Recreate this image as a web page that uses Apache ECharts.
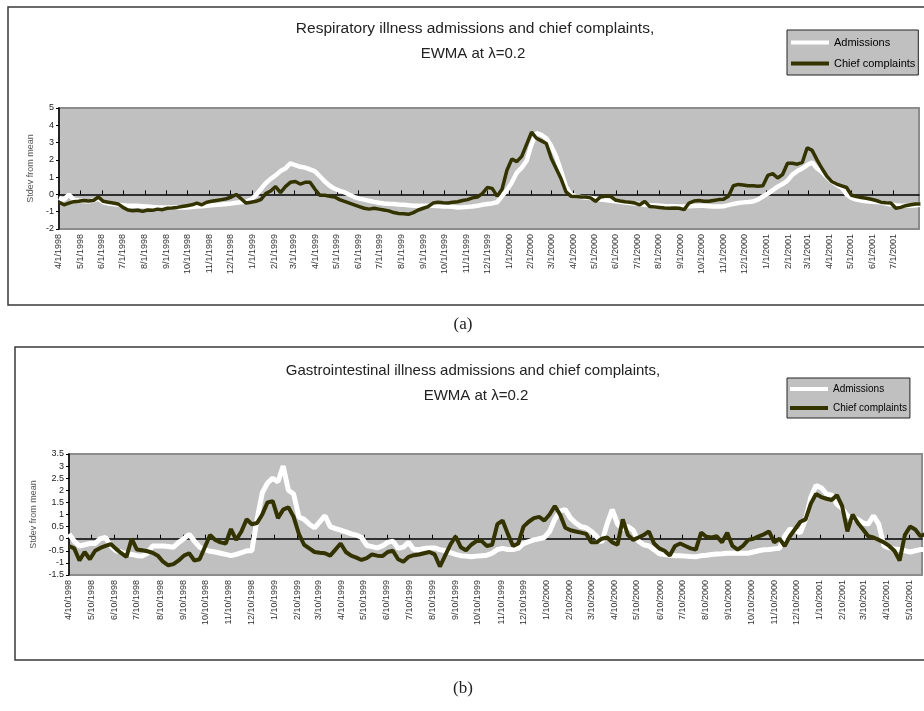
<!DOCTYPE html>
<html>
<head>
<meta charset="utf-8">
<script src="https://cdn.jsdelivr.net/npm/echarts@6/dist/echarts.min.js"></script>
<style>
  html, body { margin: 0; padding: 0; background: #fff; }
  #chart { width: 924px; height: 711px; }
</style>
</head>
<body>
<div id="chart"></div>
<script>
// EWMA (lambda = 0.2) of admissions vs chief complaints, two panels
// values are weekly readings in standard deviations from the mean

// (a) respiratory, first reading 4/1/1998, axis ends 8/6/2001
const respStart = [1998, 3, 1]
const respEnd = [2001, 7, 6]
const respAdmissions = [
  -0.2, -0.3, 0.0, -0.3, -0.35, -0.38, -0.4, -0.35, -0.25, -0.45,
  -0.52, -0.55, -0.6, -0.62, -0.65, -0.65, -0.66, -0.68, -0.7, -0.72,
  -0.75, -0.75, -0.75, -0.76, -0.75, -0.76, -0.75, -0.73, -0.7, -0.68,
  -0.65, -0.62, -0.6, -0.58, -0.55, -0.52, -0.48, -0.45, -0.42, -0.3,
  -0.05, 0.3, 0.65, 0.9, 1.1, 1.35, 1.5, 1.8, 1.7, 1.6,
  1.55, 1.45, 1.33, 1.05, 0.75, 0.5, 0.33, 0.22, 0.12, -0.02,
  -0.15, -0.24, -0.3, -0.37, -0.43, -0.48, -0.52, -0.54, -0.55, -0.58,
  -0.6, -0.62, -0.65, -0.65, -0.65, -0.65, -0.65, -0.67, -0.7, -0.7,
  -0.72, -0.75, -0.74, -0.72, -0.7, -0.66, -0.6, -0.55, -0.52, -0.45,
  -0.1, 0.25, 0.7, 1.25, 1.55, 1.95, 2.9, 3.55, 3.45, 3.25,
  2.8, 2.2, 1.35, 0.45, -0.02, -0.1, -0.15, -0.18, -0.2, -0.25,
  -0.3, -0.33, -0.36, -0.4, -0.43, -0.47, -0.5, -0.53, -0.56, -0.6,
  -0.62, -0.63, -0.65, -0.67, -0.68, -0.69, -0.7, -0.7, -0.68, -0.67,
  -0.65, -0.66, -0.68, -0.7, -0.7, -0.68, -0.62, -0.55, -0.5, -0.46,
  -0.44, -0.41, -0.3, -0.12, 0.05, 0.25, 0.45, 0.6, 0.8, 1.15,
  1.35, 1.5, 1.7, 1.85, 1.5, 1.3, 1.0, 0.75, 0.55, 0.4,
  0.0, -0.2, -0.3, -0.35, -0.4, -0.42, -0.44, -0.46, -0.53, -0.58,
  -0.63, -0.65, -0.65, -0.65, -0.62, -0.6
]
const respComplaints = [
  -0.45, -0.6, -0.5, -0.42, -0.4, -0.35, -0.38, -0.35, -0.15, -0.4,
  -0.45, -0.5, -0.55, -0.75, -0.9, -0.95, -0.92, -0.98, -0.9, -0.92,
  -0.85, -0.88, -0.8, -0.78, -0.75, -0.7, -0.65, -0.6, -0.5, -0.6,
  -0.45, -0.4, -0.35, -0.3, -0.25, -0.15, 0.0, -0.25, -0.5, -0.45,
  -0.4, -0.3, 0.05, 0.2, 0.45, 0.1, 0.45, 0.7, 0.75, 0.6,
  0.7, 0.7, 0.3, -0.05, -0.05, -0.1, -0.15, -0.3, -0.4, -0.5,
  -0.6, -0.7, -0.8, -0.85, -0.8, -0.85, -0.9, -0.95, -1.05, -1.1,
  -1.12, -1.15, -1.05, -0.9, -0.8, -0.7, -0.5, -0.45, -0.48, -0.5,
  -0.45, -0.42, -0.35, -0.3, -0.2, -0.15, 0.05, 0.4, 0.35, -0.1,
  0.3, 1.4, 2.05, 1.9, 2.2, 2.9, 3.6, 3.25, 3.1, 2.95,
  2.1, 1.5, 0.9, 0.15, -0.1, -0.12, -0.15, -0.15, -0.2, -0.4,
  -0.15, -0.1, -0.1, -0.32, -0.38, -0.42, -0.45, -0.5, -0.6, -0.4,
  -0.7, -0.72, -0.75, -0.78, -0.8, -0.78, -0.8, -0.88, -0.5, -0.38,
  -0.35, -0.4, -0.4, -0.35, -0.3, -0.28, -0.1, 0.5, 0.58, 0.55,
  0.5, 0.5, 0.48, 0.5, 1.1, 1.2, 0.95, 1.15, 1.8, 1.8,
  1.75, 1.85, 2.7, 2.55, 2.0, 1.5, 1.05, 0.75, 0.6, 0.5,
  0.4, -0.05, -0.12, -0.18, -0.22, -0.28, -0.35, -0.45, -0.48, -0.5,
  -0.8, -0.75, -0.65, -0.6, -0.55, -0.55
]
const respTicks = [
  '4/1/1998', '5/1/1998', '6/1/1998', '7/1/1998', '8/1/1998', '9/1/1998', '10/1/1998', '11/1/1998', '12/1/1998',
  '1/1/1999', '2/1/1999', '3/1/1999', '4/1/1999', '5/1/1999', '6/1/1999', '7/1/1999', '8/1/1999', '9/1/1999',
  '10/1/1999', '11/1/1999', '12/1/1999', '1/1/2000', '2/1/2000', '3/1/2000', '4/1/2000', '5/1/2000', '6/1/2000',
  '7/1/2000', '8/1/2000', '9/1/2000', '10/1/2000', '11/1/2000', '12/1/2000', '1/1/2001', '2/1/2001', '3/1/2001',
  '4/1/2001', '5/1/2001', '6/1/2001', '7/1/2001'
]

// (b) gastrointestinal, first reading 4/10/1998, axis ends 5/27/2001
const giStart = [1998, 3, 10]
const giEnd = [2001, 4, 27]
const giAdmissions = [
  0.2, -0.1, -0.3, -0.25, -0.2, -0.2, 0.0, 0.05, -0.3, -0.5,
  -0.55, -0.62, -0.65, -0.7, -0.72, -0.6, -0.3, -0.3, -0.3, -0.32,
  -0.35, -0.15, 0.0, 0.18, -0.1, -0.35, -0.45, -0.52, -0.55, -0.6,
  -0.65, -0.7, -0.65, -0.58, -0.5, -0.5, 0.8, 1.9, 2.3, 2.5,
  2.35, 3.0, 2.0, 1.85, 0.9, 0.8, 0.6, 0.45, 0.7, 0.95,
  0.5, 0.42, 0.35, 0.28, 0.2, 0.15, 0.05, -0.28, -0.33, -0.38,
  -0.3, -0.15, -0.1, -0.4, -0.35, -0.15, -0.45, -0.45, -0.4, -0.38,
  -0.38, -0.45, -0.5, -0.58, -0.65, -0.7, -0.72, -0.75, -0.72, -0.7,
  -0.68, -0.6, -0.45, -0.4, -0.45, -0.45, -0.4, -0.2, -0.12, -0.05,
  0.0, 0.05, 0.3, 0.8, 1.15, 1.2, 0.85, 0.65, 0.5, 0.45,
  0.3, 0.1, -0.15, 0.6, 1.2, 0.6, 0.4, 0.5, 0.35, -0.1,
  -0.25, -0.3, -0.45, -0.62, -0.65, -0.68, -0.7, -0.7, -0.72, -0.74,
  -0.75, -0.7, -0.68, -0.65, -0.63, -0.62, -0.6, -0.6, -0.6, -0.6,
  -0.6, -0.55, -0.5, -0.46, -0.45, -0.42, -0.4, 0.1, 0.4, 0.33,
  0.25, 0.8, 1.7, 2.2, 2.1, 1.85, 1.8, 1.42, 1.25, 0.95,
  0.82, 0.8, 0.65, 0.6, 0.95, 0.6, -0.3, -0.38, -0.42, -0.45,
  -0.5, -0.55, -0.5, -0.45, -0.45
]
const giComplaints = [
  -0.3, -0.4, -0.9, -0.55, -0.85, -0.5, -0.38, -0.3, -0.22, -0.42,
  -0.6, -0.75, 0.0, -0.45, -0.48, -0.52, -0.58, -0.7, -0.95, -1.1,
  -1.05, -0.9, -0.7, -0.6, -0.9, -0.85, -0.35, 0.15, -0.05, -0.15,
  -0.2, 0.4, -0.05, 0.3, 0.8, 0.6, 0.65, 1.0, 1.5, 1.55,
  0.85, 1.2, 1.3, 0.9, 0.2, -0.25, -0.4, -0.55, -0.58, -0.6,
  -0.7, -0.45, -0.2, -0.55, -0.7, -0.78, -0.88, -0.8, -0.65, -0.7,
  -0.72, -0.55, -0.5, -0.85, -0.95, -0.75, -0.68, -0.65, -0.6, -0.55,
  -0.65, -1.15, -0.7, -0.25, 0.1, -0.35, -0.48, -0.25, -0.1, -0.1,
  -0.3, -0.25, 0.6, 0.75, 0.2, -0.3, -0.2, 0.5, 0.7, 0.85,
  0.9, 0.75, 1.0, 1.35, 1.0, 0.45, 0.35, 0.3, 0.25, 0.2,
  -0.15, -0.15, 0.0, 0.05, -0.15, -0.25, 0.8, 0.15, -0.05, 0.05,
  0.15, 0.3, -0.2, -0.4, -0.5, -0.7, -0.3, -0.2, -0.3, -0.4,
  -0.45, 0.25, 0.08, 0.05, 0.1, -0.15, 0.25, -0.3, -0.45, -0.3,
  -0.05, 0.0, 0.1, 0.18, 0.3, -0.15, 0.0, -0.3, 0.1, 0.4,
  0.7, 0.8, 1.45, 1.85, 1.72, 1.65, 1.6, 1.8, 1.35, 0.3,
  1.0, 0.65, 0.38, 0.1, 0.05, -0.05, -0.15, -0.3, -0.5, -0.9,
  0.15, 0.5, 0.38, 0.1, 0.2
]
const giTicks = [
  '4/10/1998', '5/10/1998', '6/10/1998', '7/10/1998', '8/10/1998', '9/10/1998', '10/10/1998', '11/10/1998',
  '12/10/1998', '1/10/1999', '2/10/1999', '3/10/1999', '4/10/1999', '5/10/1999', '6/10/1999', '7/10/1999',
  '8/10/1999', '9/10/1999', '10/10/1999', '11/10/1999', '12/10/1999', '1/10/2000', '2/10/2000', '3/10/2000',
  '4/10/2000', '5/10/2000', '6/10/2000', '7/10/2000', '8/10/2000', '9/10/2000', '10/10/2000', '11/10/2000',
  '12/10/2000', '1/10/2001', '2/10/2001', '3/10/2001', '4/10/2001', '5/10/2001'
]

const DAY = 86400000
const FONT = '"Liberation Sans", Arial, sans-serif'
const OLIVE = '#333300'

// x runs in days since the panel's first reading
const ymd = a => Date.UTC(a[0], a[1], a[2])
const dayOf = (start, t) => Math.round((t - ymd(start)) / DAY)
const parseTick = s => {
  const [m, d, y] = s.split('/').map(Number)
  return Date.UTC(y, m - 1, d)
}
const fmtDay = start => v => {
  const d = new Date(ymd(start) + Math.round(v) * DAY)
  return `${d.getUTCMonth() + 1}/${d.getUTCDate()}/${d.getUTCFullYear()}`
}
// weekly readings -> [day, value]
const weekly = vals => vals.map((v, i) => [i * 7, v])

function xAxes(gridIndex, start, end, ticks) {
  const tickDays = ticks.map(s => dayOf(start, parseTick(s)))
  const range = { min: 0, max: dayOf(start, ymd(end)) }
  return [
    { // labels along the bottom of the plot
      type: 'value', gridIndex, ...range,
      axisLine: { show: false, onZero: false },
      axisTick: { show: false },
      splitLine: { show: false },
      axisLabel: {
        customValues: tickDays, formatter: fmtDay(start), rotate: 90,
        fontSize: 9, color: '#333', margin: 5, fontFamily: FONT,
        showMinLabel: true, showMaxLabel: true
      }
    },
    { // the zero line with monthly ticks
      type: 'value', gridIndex, ...range,
      axisLine: { onZero: true, lineStyle: { color: '#000', width: 1.5 } },
      axisTick: { customValues: tickDays, length: 4, lineStyle: { color: '#000', width: 1 } },
      axisLabel: { show: false },
      splitLine: { show: false }
    }
  ]
}

function yAxis(gridIndex, min, max, interval, nameGap) {
  return {
    type: 'value', gridIndex, min, max, interval,
    name: 'Stdev from mean', nameLocation: 'middle', nameGap,
    nameTextStyle: { fontSize: 9, color: '#555', fontFamily: FONT },
    axisLine: { show: true, onZero: false, lineStyle: { color: '#000', width: 1.5 } },
    axisTick: { show: true, length: 3, lineStyle: { color: '#000' } },
    axisLabel: { fontSize: 9, color: '#222', margin: 5, fontFamily: FONT },
    splitLine: { show: false }
  }
}

function lines(xAxisIndex, yAxisIndex, adm, cc, widths) {
  return [
    {
      name: 'Admissions', type: 'line', xAxisIndex, yAxisIndex,
      data: weekly(adm), symbol: 'none', z: 2,
      lineStyle: { color: '#ffffff', width: widths[0] }, itemStyle: { color: '#ffffff' }
    },
    {
      name: 'Chief complaints', type: 'line', xAxisIndex, yAxisIndex,
      data: weekly(cc), symbol: 'none', z: 3,
      lineStyle: { color: OLIVE, width: widths[1] }, itemStyle: { color: OLIVE }
    }
  ]
}

function legend(top, fontSize, itemGap, padding) {
  return {
    left: 787, top, orient: 'vertical', icon: 'rect',
    itemWidth: 38, itemHeight: 4, itemGap, padding,
    backgroundColor: '#c0c0c0', borderColor: '#222', borderWidth: 1,
    selectedMode: false,
    textStyle: { fontSize, color: '#000', fontFamily: FONT },
    data: ['Admissions', 'Chief complaints']
  }
}

const text = (x, y, str, font) => ({
  type: 'text', x, y,
  style: { text: str, font, fill: '#222', align: 'center', verticalAlign: 'middle' }
})
const frame = (x, y, w, h) => ({
  type: 'rect', shape: { x, y, width: w, height: h },
  style: { fill: 'none', stroke: '#3a3a3a', lineWidth: 1.5 }
})

const plotBg = { show: true, backgroundColor: '#c0c0c0', borderColor: '#8c8c8c', borderWidth: 2 }

const chart = echarts.init(document.getElementById('chart'))
chart.setOption({
  animation: false,
  grid: [
    { left: 59, top: 108, width: 860, height: 121, ...plotBg },
    { left: 69, top: 454, width: 853, height: 121, ...plotBg }
  ],
  xAxis: [
    ...xAxes(0, respStart, respEnd, respTicks),
    ...xAxes(1, giStart, giEnd, giTicks)
  ],
  yAxis: [
    yAxis(0, -2, 5, 1, 21),
    yAxis(1, -1.5, 3.5, 0.5, 22)
  ],
  legend: [
    legend(30, 11, 10, [7, 3, 6, 4]),
    legend(378, 10, 9, [6, 3, 5, 3])
  ],
  series: [
    ...lines(0, 0, respAdmissions, respComplaints, [4.5, 3.5]),
    ...lines(2, 1, giAdmissions, giComplaints, [5, 4])
  ],
  graphic: [
    frame(8, 7, 930, 298),
    frame(15, 347, 930, 313),
    text(475, 29, 'Respiratory illness admissions and chief complaints,', '15.5px ' + FONT),
    text(473, 54, 'EWMA at λ=0.2', '15px ' + FONT),
    text(473, 371, 'Gastrointestinal illness admissions and chief complaints,', '15px ' + FONT),
    text(476, 396, 'EWMA at λ=0.2', '15px ' + FONT),
    text(463, 325, '(a)', '17px "Liberation Serif", "Times New Roman", serif'),
    text(463, 689, '(b)', '17px "Liberation Serif", "Times New Roman", serif')
  ]
})
</script>
</body>
</html>
